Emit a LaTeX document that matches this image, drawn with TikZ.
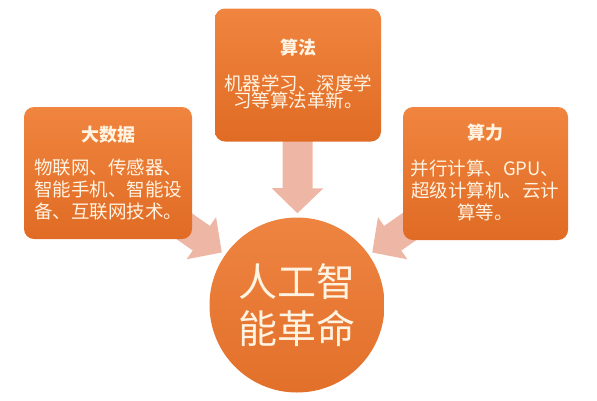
\documentclass[tikz,border=0pt]{standalone}
\usepackage{fontspec}
\setmainfont{Noto Sans CJK SC}
\usetikzlibrary{arrows.meta,backgrounds}
\definecolor{boxtop}{HTML}{F0853F}
\definecolor{boxbot}{HTML}{E06B24}
\definecolor{coretop}{HTML}{EE8441}
\definecolor{corebot}{HTML}{E2702A}
\definecolor{cream}{HTML}{FFF3E2}
\definecolor{arrowpink}{HTML}{EEB7A5}

\begin{document}
\begin{tikzpicture}[x=1pt,y=-1pt,
	box/.style={rectangle,rounded corners=10pt,top color=boxtop,bottom color=boxbot,minimum width=166pt,minimum height=133pt,inner sep=0pt},
	boxtitle/.style={text=cream,inner sep=0pt,font=\bfseries\fontsize{18}{18}\selectfont},
	boxbody/.style={text=cream,inner sep=0pt,align=center,font=\fontsize{18.5}{22}\selectfont},
	bigarrow/.style={line width=30pt,draw=arrowpink,-{Triangle[length=25pt,width=50pt]},shorten >=4pt}]
			\useasboundingbox (0,0) rectangle (597,400);
			\node[box] (algo)at(298,75) {};
			\node[box,minimum width=168pt,minimum height=132pt] (data)at(108,173) {};
			\node[box,minimum width=165pt] (power)at(485.5,173.5) {};
			\node[circle,inner sep=0pt,minimum size=175pt,top color=coretop,bottom color=corebot,text=cream,align=center,font=\fontsize{39}{47}\selectfont] (core)at(297,305) {人工智\\能革命};
			\node[boxtitle] (algotitle)at(298,48) {算法};
			\node[boxbody,font=\fontsize{18.5}{17.5}\selectfont] (algotext)at(298,92) {机器学习、深度学\\习等算法革新。};
			\node[boxtitle] (datatitle)at(108,135) {大数据};
			\node[boxbody] (datatext)at(108,190) {物联网、传感器、\\智能手机、智能设\\备、互联网技术。};
			\node[boxtitle] (powertitle)at(485,133) {算力};
			\node[boxbody] (powertext)at(485,190) {并行计算、GPU、\\超级计算机、云计\\算等。};
			\begin{scope}[on background layer]
			\draw[bigarrow] (algo.center) -- (core);
			\draw[bigarrow] (data.center) -- (core);
			\draw[bigarrow] (power.center) -- (core);
			\end{scope}
		\end{tikzpicture}
\end{document}
